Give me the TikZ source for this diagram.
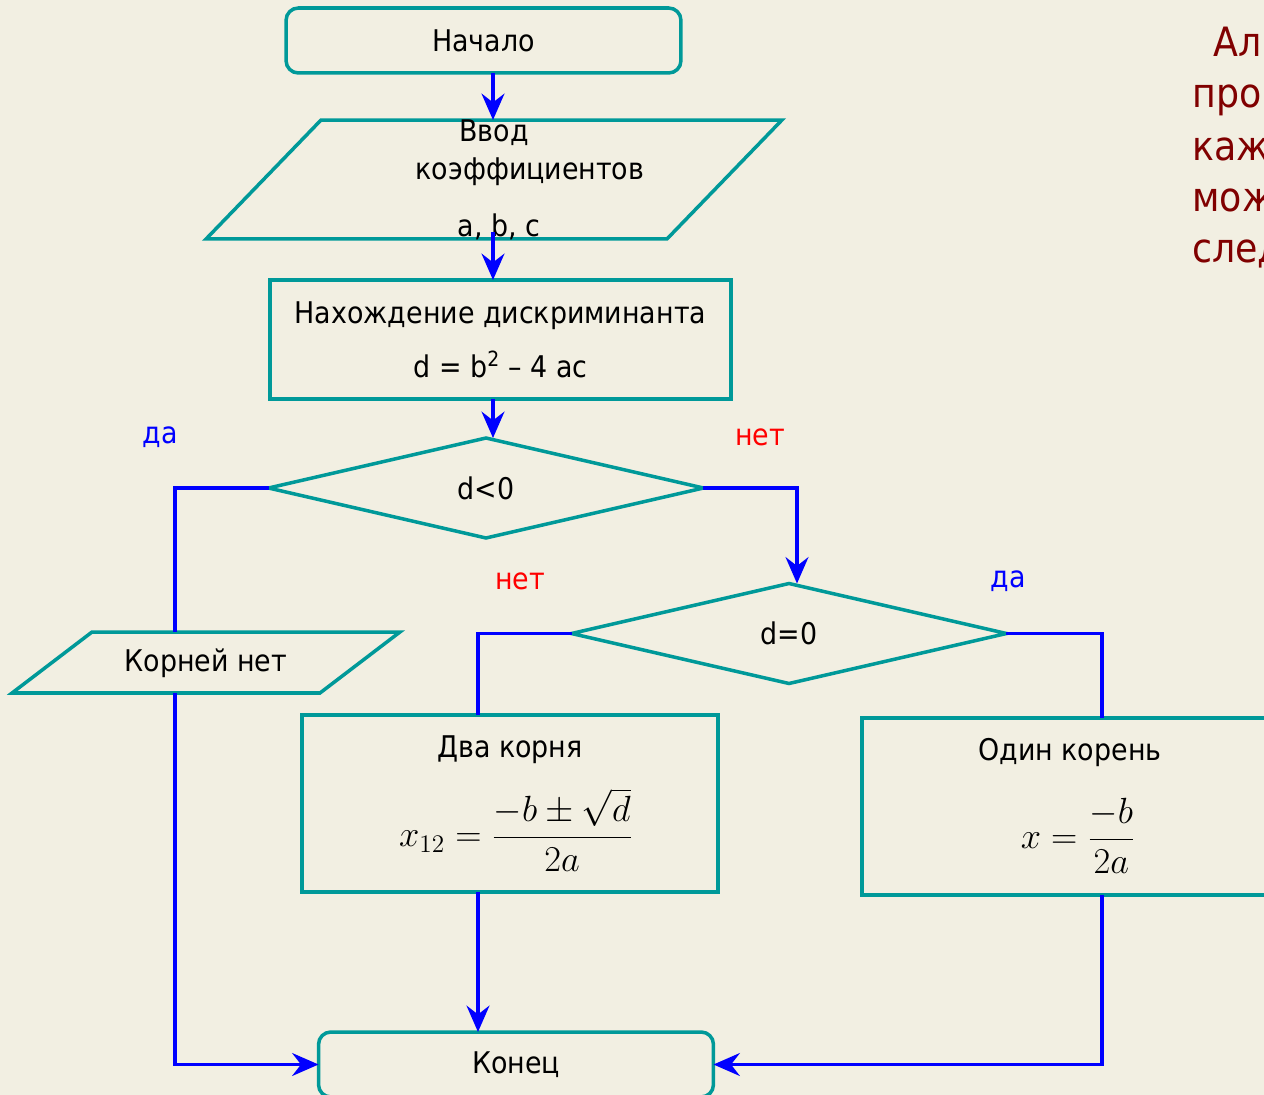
\documentclass[tikz,border=0pt]{standalone}
\usepackage{fontspec}
\setmainfont{DejaVu Sans Condensed}
\usetikzlibrary{shapes.geometric,arrows.meta}
\definecolor{bgcol}{RGB}{242,239,226}
\definecolor{boxcol}{RGB}{0,153,153}
\definecolor{notecol}{RGB}{128,0,0}
\tikzset{
  box/.style={draw=boxcol, line width=2pt, inner sep=0pt, outer sep=0pt, align=center,
    font=\fontsize{17}{30.6}\selectfont},
  frame/.style={inner sep=0pt, outer sep=0pt},
  edge/.style={draw=boxcol, line width=2pt},
  term/.style={box, rounded corners=7pt, minimum width=7.9cm, minimum height=1.3cm},
  cond/.style={box, diamond, minimum width=8.7cm, minimum height=2cm},
  txt/.style={inner sep=0pt, font=\fontsize{17}{20}\selectfont},
  frm/.style={inner sep=0pt, font=\fontsize{21}{25}\selectfont},
  yes/.style={txt, text=blue},
  no/.style={txt, text=red},
  link/.style={draw=blue, line width=2pt},
  flow/.style={link, -{Stealth[length=15pt, width=13pt, inset=5pt]}}
}
\newcommand{\slanted}[2]{% node name, shift of the top edge
  \draw[edge] (#1.south west) -- ([xshift=#2]#1.north west) -- (#1.north east)
    -- ([xshift=-#2]#1.south east) -- cycle;}
\begin{document}
\begin{tikzpicture}[x=0.02cm,y=-0.02cm]
  % Define the page
  \useasboundingbox (0,0) rectangle (1264,1095);
  \fill[bgcol] (0,0) rectangle (1264,1095);
  \clip (0,0) rectangle (1264,1095);
  % Blocks
  \node[term] (start) at (483.5,40.5) {Начало};
  \node[frame, minimum width=11.52cm, minimum height=2.38cm] (input) at (494,179.5) {};
  \slanted{input}{2.3cm}
  \node[txt] (inputa) at (494,133) {Ввод};
  \node[txt] (inputb) at (530,172) {коэффициентов};
  \node[txt] (inputc) at (499,227) {a, b, c};
  \node[box, minimum width=9.22cm, minimum height=2.38cm] (calc) at (500.5,339.5)
    {Нахождение дискриминанта\\d = b\textsuperscript{2} – 4 ac};
  \node[cond] (lt) at (486,488) {d<0};
  \node[cond] (eq) at (789,633.5) {d=0};
  \node[frame, minimum width=7.76cm, minimum height=1.22cm] (noroot) at (206,662.5) {};
  \slanted{noroot}{1.6cm}
  \node[txt] (noroottxt) at (206,663) {Корней нет};
  \node[box, minimum width=8.32cm, minimum height=3.54cm] (two) at (510,803.5) {};
  \node[txt] (twotxt) at (510,750) {Два корня};
  \node[frm] (twofrm) at (516,830) {$\displaystyle x_{12}=\frac{-b\pm\sqrt{d}}{2a}$};
  \node[box, minimum width=8.32cm, minimum height=3.54cm] (one) at (1070,806.5) {};
  \node[txt] (onetxt) at (1070,753) {Один корень};
  \node[frm] (onefrm) at (1078,836) {$\displaystyle x=\frac{-b}{2a}$};
  \node[term] (end) at (516,1064.5) {Конец};
  % Branch labels
  \node[yes] (lty) at (160,437) {да};
  \node[no] (ltn) at (760,437) {нет};
  \node[no] (eqn) at (520,581) {нет};
  \node[yes] (eqy) at (1008,581) {да};
  % Connectors
  \coordinate (sx) at (493,0);
  \coordinate (lx) at (175,0);
  \coordinate (rx) at (797,0);
  \coordinate (tx) at (478,0);
  \coordinate (ox) at (1102,0);
  \draw[flow] (start.south -| sx) -- (input.north -| sx);
  \draw[flow] ([yshift=0.14cm]input.south -| sx) -- (calc.north -| sx);
  \draw[flow] (calc.south -| sx) -- (lt.north -| sx);
  \draw[link] (lt.west) -| (noroot.north -| lx);
  \draw[flow] (noroot.south -| lx) |- (end.west);
  \draw[flow] (lt.east) -| (eq.north -| rx);
  \draw[link] (eq.west) -| (two.north -| tx);
  \draw[link] (eq.east) -| (one.north -| ox);
  \draw[flow] (two.south -| tx) -- (end.north -| tx);
  \draw[flow] (one.south -| ox) |- (end.east);
  % Side note
  \begin{scope}[font=\fontsize{23}{28}\selectfont, text=notecol, inner sep=0pt, anchor=base west]
    \node (note1) at (1213,57) {Ал};
    \node (note2) at (1192,108) {про};
    \node (note3) at (1192,160) {каж};
    \node (note4) at (1192,211) {мож};
    \node (note5) at (1192,262) {след};
  \end{scope}
\end{tikzpicture}
\end{document}
